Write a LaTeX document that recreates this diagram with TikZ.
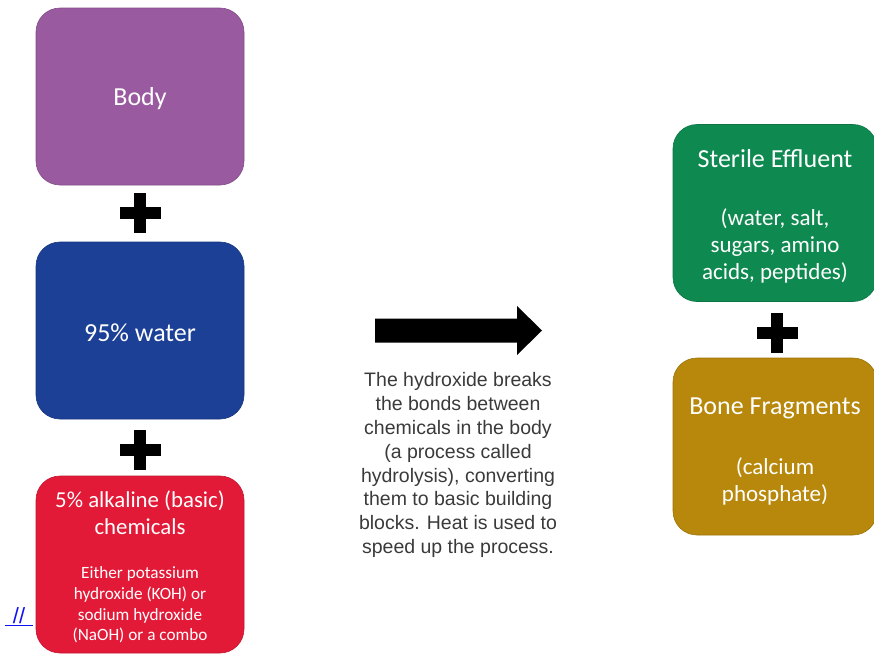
\documentclass[tikz,border=0pt]{standalone}
\usepackage{fontspec}
\setmainfont{Carlito}
\newfontfamily\arialf{Liberation Sans}
\definecolor{cpurple}{HTML}{9A5AA0}
\definecolor{cblue}{HTML}{1C4096}
\definecolor{cred}{HTML}{E31A37}
\definecolor{cgreen}{HTML}{0E8A51}
\definecolor{cgold}{HTML}{B8880C}
\definecolor{ctext}{HTML}{3A3A3A}
\definecolor{clink}{HTML}{1010F0}
\tikzset{
  box/.style={rounded corners=24pt, minimum width=208pt, minimum height=177pt,
    inner sep=0pt, line width=0.6pt, draw=#1!85!black, fill=#1},
  btxt/.style={text=white, align=center, inner sep=0pt},
  ttl/.style={btxt, font=\fontsize{26}{27}\selectfont},
  redttl/.style={btxt, font=\fontsize{22.8}{27}\selectfont},
  redsub/.style={btxt, font=\fontsize{17.2}{20.6}\selectfont},
  sub/.style={btxt, font=\fontsize{23}{27}\selectfont},
}
\newcommand{\plussign}[2]{%
  \fill (#1-20.5,#2-6) rectangle (#1+20.5,#2+6);
  \fill (#1-6,#2-20) rectangle (#1+6,#2+20);}
\begin{document}
\begin{tikzpicture}[x=1pt,y=-1pt]
\useasboundingbox (0,0) rectangle (874,654);
% left column
\node[box=cpurple] (body) at (140,96.5) {};
\node[ttl] (bodyt) at (140,99) {Body};
\node[box=cblue] (water) at (140,330.5) {};
\node[ttl] (watert) at (140,332.5) {95\% water};
\node[box=cred] (alk) at (140,564.5) {};
\node[redttl] (alkt) at (140,513) {5\% alkaline (basic)\\ chemicals};
\node[redsub] (alks) at (140,605) {Either potassium\\ hydroxide (KOH) or\\ sodium hydroxide\\ (NaOH) or a combo};
\plussign{140}{213}
\plussign{140}{450}
% right column
\node[box=cgreen, minimum width=204pt] (eff) at (775,213) {};
\node[ttl] (efft) at (775,159) {Sterile Effluent};
\node[sub] (effs) at (775,246) {(water, salt,\\ sugars, amino\\ acids, peptides)};
\node[box=cgold, minimum width=204pt] (bone) at (775,446.5) {};
\node[ttl] (bonet) at (775,408) {Bone Fragments};
\node[sub] (bones) at (775,481.5) {(calcium\\ phosphate)};
\plussign{777}{332.5}
% arrow
\fill (375,318.5) -- (517,318.5) -- (517,306) -- (542,330.5) -- (517,355) -- (517,342.5) -- (375,342.5) -- cycle;
\node[text=ctext, align=center, font=\arialf\fontsize{19.5}{23.9}\selectfont] (desc) at (458,465) {%
  The hydroxide breaks\\ the bonds between\\ chemicals in the body\\ (a process called\\
  hydrolysis), converting\\ them to basic building\\ blocks. Heat is used to\\ speed up the process.};
% link
\node[text=clink, font=\arialf\fontsize{22}{24}\selectfont, inner sep=0pt, anchor=south] (lnk) at (19,624) {//};
\draw[draw=clink, line width=1pt] (5,625.5) -- (33,625.5);
\end{tikzpicture}
\end{document}
